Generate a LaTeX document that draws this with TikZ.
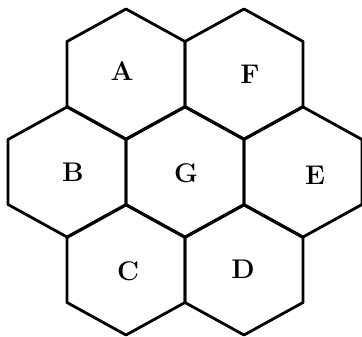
\documentclass[tikz,border=0pt]{standalone}
\tikzset{
  hexline/.style={draw=black, line width=2.8pt, line join=round},
  lbl/.style={font=\fontsize{27}{27}\selectfont\bfseries, inner sep=0pt}
}
\begin{document}
\begin{tikzpicture}[x=1pt,y=-1pt]
\fill[white] (0,0) rectangle (362,337);
\useasboundingbox (0,0) rectangle (362,337);
\foreach \n/\x/\y/\lx/\ly in {A/126/74/122/71, F/244/74/250/74, B/67/172/73/172, G/185/172/186/173, E/303/172/315/175, C/126/270/128/271, D/244/270/243/269} {
  \draw[hexline] ({\x-59},{\y-32.5}) -- (\x,{\y-65}) -- ({\x+59},{\y-32.5}) -- ({\x+59},{\y+32.5}) -- (\x,{\y+65}) -- ({\x-59},{\y+32.5}) -- cycle;
  \node[lbl] (\n) at (\lx,\ly) {\n};
}
\end{tikzpicture}
\end{document}
